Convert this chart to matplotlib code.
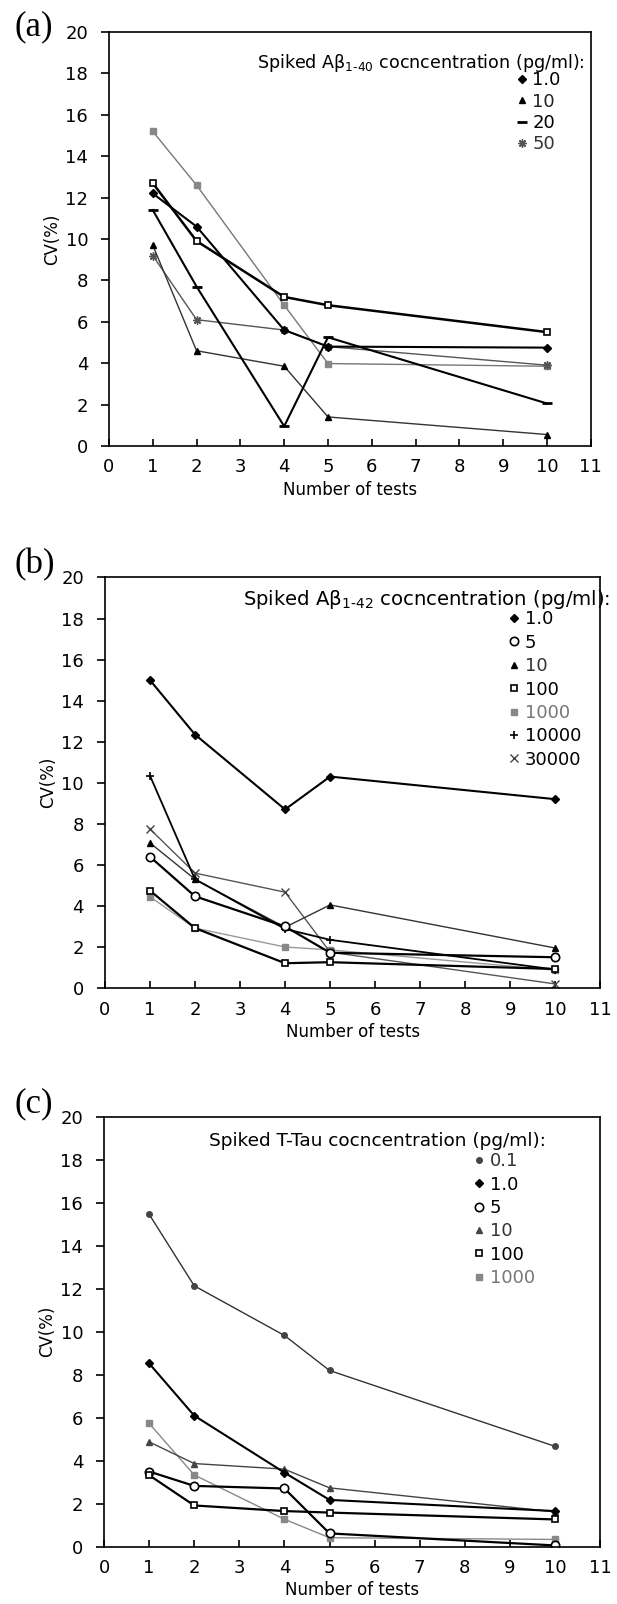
import matplotlib
matplotlib.use("Agg")
import matplotlib.pyplot as plt
from matplotlib.lines import Line2D

plt.rcParams['font.family'] = ['DejaVu Sans']
plt.rcParams['mathtext.default'] = 'regular'

# number of tests on the x axis
tests = [1, 2, 4, 5, 10]

# (a) Abeta 1-40
a_labels = ['1.0', '10', '20', '50']
a_1 = [12.2, 10.6, 5.6, 4.8, 4.75]
a_10 = [9.7, 4.6, 3.85, 1.4, 0.55]
a_20 = [11.4, 7.7, 0.95, 5.25, 2.05]
a_50 = [9.2, 6.1, 5.6, 4.8, 3.9]
a_open_sq = [12.7, 9.9, 7.2, 6.8, 5.5]
a_gray_sq = [15.2, 12.6, 6.8, 3.98, 3.85]

# (b) Abeta 1-42
b_labels = ['1.0', '5', '10', '100', '1000', '10000', '30000']
b_1 = [15.0, 12.35, 8.7, 10.3, 9.2]
b_5 = [6.4, 4.47, 3.0, 1.72, 1.5]
b_10 = [7.07, 5.3, 2.96, 4.05, 1.95]
b_100 = [4.75, 2.92, 1.21, 1.26, 0.93]
b_1000 = [4.45, 2.92, 2.0, 1.86, 0.87]
b_10000 = [10.35, 5.3, 2.88, 2.35, 0.9]
b_30000 = [7.75, 5.6, 4.67, 1.75, 0.2]

# (c) T-Tau
c_labels = ['0.1', '1.0', '5', '10', '100', '1000']
c_01 = [15.47, 12.14, 9.83, 8.2, 4.67]
c_1 = [8.53, 6.1, 3.45, 2.18, 1.66]
c_5 = [3.5, 2.83, 2.71, 0.62, 0.06]
c_10 = [4.88, 3.87, 3.61, 2.74, 1.62]
c_100 = [3.33, 1.92, 1.66, 1.59, 1.27]
c_1000 = [5.74, 3.34, 1.28, 0.42, 0.34]

# marker styles
DIAM = dict(marker='D', ms=4, mfc='black', mec='black')
TRI = dict(marker='^', ms=4, mfc='black', mec='black')
TRI_G = dict(marker='^', ms=5, mfc='#444444', mec='#444444')
DASH = dict(marker='_', ms=7, mew=2, mec='black')
STAR = dict(marker=(8, 2, 0), ms=6, mew=1, mec='#555555')
XMK = dict(marker='x', ms=6, mew=1, mec='#444444')
OSQ = dict(marker='s', ms=5, mfc='white', mec='black', mew=1.2)
GSQ = dict(marker='s', ms=4, mfc='#888888', mec='#888888')
OCI = dict(marker='o', ms=6, mfc='white', mec='black', mew=1.2)
PLUS = dict(marker='+', ms=6, mew=1.2, mec='black')
DOT = dict(marker='o', ms=4, mfc='#444444', mec='#444444')

fig = plt.figure(figsize=(6.17, 16.04), dpi=100)
titles = []  # (text, wanted width in px)


def style_axes(ax):
    ax.set_xlim(0, 11)
    ax.set_ylim(0, 20)
    ax.set_xticks(range(0, 12))
    ax.set_yticks(range(0, 21, 2))
    ax.tick_params(axis='x', direction='in', length=5, width=1.2, pad=9, labelsize=13)
    ax.tick_params(axis='y', direction='out', length=6, width=1.2, pad=9, labelsize=13)
    for s in ax.spines.values():
        s.set_linewidth(1.2)
    ax.set_xlabel('Number of tests', fontsize=12, labelpad=3)
    ax.set_ylabel('CV(%)', fontsize=12, labelpad=3)


def add_legend(ax, title, handles, labels, colors, tx, ty, tw, lx, ly, spacing):
    t = ax.text(tx, ty, title, transform=ax.transAxes, ha='right', va='center', fontsize=13)
    titles.append((t, tw))
    leg = ax.legend(handles, labels, loc='upper left', bbox_to_anchor=(lx, ly),
                    frameon=False, handlelength=0.6, handletextpad=0.3,
                    labelspacing=spacing, borderpad=0, borderaxespad=0,
                    fontsize=13)
    for t, c in zip(leg.get_texts(), colors):
        t.set_color(c)


def h(st):
    return Line2D([], [], linestyle='none', **st)


# ---------- (a) ----------
ax = fig.add_axes([0.1766, 0.722, 0.781, 0.258])
style_axes(ax)
ax.plot(tests, a_gray_sq, color='#777777', lw=1.0, **GSQ)
ax.plot(tests, a_50, color='#555555', lw=1.0, **STAR)
ax.plot(tests, a_10, color='#333333', lw=1.0, **TRI)
ax.plot(tests, a_20, color='black', lw=1.5, **DASH)
ax.plot(tests, a_1, color='black', lw=1.5, **DIAM)
ax.plot(tests, a_open_sq, color='black', lw=1.8, **OSQ)
add_legend(ax, 'Spiked Aβ$_{1\u201040}$ cocncentration (pg/ml):',
           [h(DIAM), h(TRI), h(DASH), h(STAR)], a_labels,
           ['black', '#222222', 'black', '#333333'],
           0.988, 0.925, 328, 0.845, 0.905, 0.18)
fig.text(0.024, 0.9835, '(a)', family='Liberation Serif', fontsize=25, va='center')

# ---------- (b) ----------
ax = fig.add_axes([0.170, 0.384, 0.803, 0.256])
style_axes(ax)
ax.plot(tests, b_1000, color='#999999', lw=1.0, **GSQ)
ax.plot(tests, b_30000, color='#555555', lw=1.0, **XMK)
ax.plot(tests, b_10, color='#333333', lw=1.0, **TRI)
ax.plot(tests, b_10000, color='black', lw=1.3, **PLUS)
ax.plot(tests, b_5, color='black', lw=1.6, **OCI)
ax.plot(tests, b_100, color='black', lw=1.6, **OSQ)
ax.plot(tests, b_1, color='black', lw=1.5, **DIAM)
add_legend(ax, 'Spiked Aβ$_{1\u201042}$ cocncentration (pg/ml):',
           [h(DIAM), h(OCI), h(TRI), h(OSQ), h(GSQ), h(PLUS), h(XMK)], b_labels,
           ['black', 'black', '#333333', 'black', '#777777', 'black', 'black'],
           1.02, 0.946, 366, 0.815, 0.92, 0.3)
fig.text(0.024, 0.648, '(b)', family='Liberation Serif', fontsize=25, va='center')

# ---------- (c) ----------
ax = fig.add_axes([0.1686, 0.0357, 0.804, 0.268])
style_axes(ax)
ax.plot(tests, c_1000, color='#888888', lw=1.0, **GSQ)
ax.plot(tests, c_01, color='#333333', lw=1.0, **DOT)
ax.plot(tests, c_10, color='#444444', lw=1.0, **TRI_G)
ax.plot(tests, c_1, color='black', lw=1.5, **DIAM)
ax.plot(tests, c_5, color='black', lw=1.6, **OCI)
ax.plot(tests, c_100, color='black', lw=1.6, **OSQ)
add_legend(ax, 'Spiked T-Tau cocncentration (pg/ml):',
           [h(DOT), h(DIAM), h(OCI), h(TRI_G), h(OSQ), h(GSQ)], c_labels,
           ['#333333', 'black', 'black', '#333333', 'black', '#777777'],
           0.89, 0.944, 336, 0.745, 0.918, 0.3)
fig.text(0.024, 0.312, '(c)', family='Liberation Serif', fontsize=25, va='center')

# scale the legend titles to the width they have in the original
fig.canvas.draw()
r = fig.canvas.get_renderer()
for t, w in titles:
    t.set_fontsize(t.get_fontsize() * w / t.get_window_extent(r).width)

fig.savefig('out.png', dpi=100)
